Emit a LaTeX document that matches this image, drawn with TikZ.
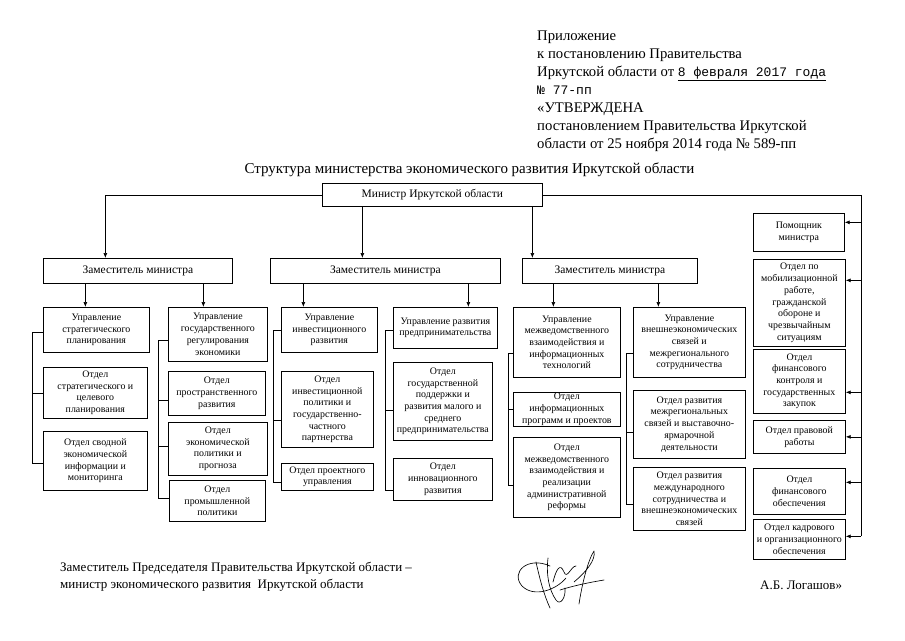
\documentclass[tikz,border=0pt]{standalone}
\usepackage{fontspec}
\setmainfont{Liberation Serif}
\newfontfamily\monofam{Liberation Mono}
\usetikzlibrary{arrows.meta}
\begin{document}
\begin{tikzpicture}[x=1pt,y=-1pt,
  box/.style={draw, line width=0.7pt, inner sep=1pt, align=center,
    font=\fontsize{9.9}{11.7}\selectfont, anchor=north west},
  ln/.style={line width=0.7pt},
  arr/.style={line width=0.7pt, -{Latex[length=5pt,width=4pt]}},
  hdr/.style={anchor=base west, inner sep=0pt, font=\fontsize{14.7}{17}\selectfont},
  txt/.style={anchor=base west, inner sep=0pt, font=\fontsize{13}{15}\selectfont}]
\useasboundingbox (0,0) rectangle (905,640);
\fill[white] (0,0) rectangle (905,640);
\newcommand\bx[6]{\node[box, minimum width={(#4-#2)*1pt}, minimum height={(#5-#3)*1pt}] (#1) at (#2,#3) {#6};}

% header
\node[hdr] (h1) at (537,40) {Приложение};
\node[hdr] (h2) at (537,58) {к постановлению Правительства};
\node[hdr] (h3) at (537,76) {Иркутской области от {\monofam\fontsize{13}{15}\selectfont\underline{8 февраля 2017 года}}};
\node[hdr] (h4) at (537,94) {\monofam\fontsize{13}{15}\selectfont № 77-пп};
\node[hdr] (h5) at (537,112) {«УТВЕРЖДЕНА};
\node[hdr] (h6) at (537,130) {постановлением Правительства Иркутской};
\node[hdr] (h7) at (537,148) {области от 25 ноября 2014 года № 589-пп};

% title
\node[anchor=base, inner sep=0pt, font=\fontsize{15}{18}\selectfont] (title) at (469.5,173)
  {Структура министерства экономического развития Иркутской области};

% minister and deputies
\node[draw, line width=0.7pt, anchor=north west, minimum width=220pt, minimum height=23pt,
  inner sep=1pt, font=\fontsize{11.5}{13}\selectfont] (min) at (322,183) {Министр Иркутской области};
\node[draw, line width=0.7pt, anchor=north west, minimum width=189pt, minimum height=25pt,
  inner sep=1pt, font=\fontsize{11.5}{13}\selectfont] (D1) at (43,258) {Заместитель министра};
\node[draw, line width=0.7pt, anchor=north west, minimum width=230pt, minimum height=25pt,
  inner sep=1pt, font=\fontsize{11.5}{13}\selectfont] (D2) at (270,258) {Заместитель министра};
\node[draw, line width=0.7pt, anchor=north west, minimum width=175pt, minimum height=25pt,
  inner sep=1pt, font=\fontsize{11.5}{13}\selectfont] (D3) at (522,258) {Заместитель министра};

% level boxes
\bx{US}{43}{307}{149}{352}{Управление\\стратегического\\планирования}
\bx{UG}{168}{307}{267}{361}{Управление\\государственного\\регулирования\\экономики}
\bx{OS1}{43}{367}{147}{418}{Отдел\\стратегического и\\целевого\\планирования}
\bx{OS2}{43}{431}{147}{490}{Отдел сводной\\экономической\\информации и\\мониторинга}
\bx{OG1}{168}{371}{265}{415}{Отдел\\пространственного\\развития}
\bx{OG2}{168}{422}{267}{475}{Отдел\\экономической\\политики и\\прогноза}
\bx{OG3}{169}{480}{265}{521}{Отдел\\промышленной\\политики}
\bx{UI}{281}{307}{377}{352}{Управление\\инвестиционного\\развития}
\bx{UP}{393}{307}{497}{348}{Управление развития\\предпринимательства}
\bx{OI1}{281}{371}{373}{447}{Отдел\\инвестиционной\\политики и\\государственно-\\частного\\партнерства}
\bx{OI2}{281}{463}{373}{490}{Отдел проектного\\управления}
\bx{OP1}{393}{362}{492}{440}{Отдел\\государственной\\поддержки и\\развития малого и\\среднего\\предпринимательства}
\bx{OP2}{393}{458}{492}{500}{Отдел\\инновационного\\развития}
\bx{UM}{513}{307}{620}{377}{Управление\\межведомственного\\взаимодействия и\\информационных\\технологий}
\bx{UV}{633}{307}{745}{377}{Управление\\внешнеэкономических\\связей и\\межрегионального\\сотрудничества}
\bx{OM1}{513}{392}{620}{425}{Отдел\\информационных\\программ и проектов}
\bx{OM2}{513}{437}{620}{517}{Отдел\\межведомственного\\взаимодействия и\\реализации\\административной\\реформы}
\bx{OV1}{633}{390}{745}{458}{Отдел развития\\межрегиональных\\связей и выставочно-\\ярмарочной\\деятельности}
\bx{OV2}{633}{467}{745}{530}{Отдел развития\\международного\\сотрудничества и\\внешнеэкономических\\связей}

% right column
\bx{R1}{753}{213}{844}{251}{Помощник\\министра}
\bx{R2}{753}{259}{845}{346}{Отдел по\\мобилизационной\\работе,\\гражданской\\обороне и\\чрезвычайным\\ситуациям}
\bx{R3}{753}{349}{845}{413}{Отдел\\финансового\\контроля и\\государственных\\закупок}
\bx{R4}{753}{420}{845}{453}{Отдел правовой\\работы}
\bx{R5}{753}{468}{845}{514}{Отдел\\финансового\\обеспечения}
\bx{R6}{753}{519}{845}{559}{Отдел кадрового\\и организационного\\обеспечения}

% minister connectors
\draw[arr] (min.west) -| ([xshift=-32.5pt]D1.north);
\path ([xshift=-70pt]min.south) coordinate (m2) ([xshift=100pt]min.south) coordinate (m3);
\draw[arr] (m2) -- (m2 |- D2.north);
\draw[arr] (m3) -- (m3 |- D3.north);
\coordinate (trunk) at (861,195);
\path ([yshift=10pt]R1.east) coordinate (a1)
      ([yshift=22.5pt]R2.east) coordinate (a2)
      ([yshift=-11pt]R3.east) coordinate (a3)
      (R4.east) coordinate (a4)
      ([yshift=9pt]R5.east) coordinate (a5)
      ([yshift=3pt]R6.east) coordinate (a6);
\draw[ln] (min.east) -| (a6 -| trunk);
\foreach \a in {a1,a2,a3,a4,a5,a6} \draw[arr] (\a -| trunk) -- (\a);

% deputy connectors
\path ([xshift=-52.5pt]D1.south) coordinate (d11) ([xshift=65.5pt]D1.south) coordinate (d12)
      ([xshift=-82pt]D2.south) coordinate (d21) ([xshift=83pt]D2.south) coordinate (d22)
      ([xshift=-56.5pt]D3.south) coordinate (d31) ([xshift=48.5pt]D3.south) coordinate (d32);
\draw[arr] (d11) -- (d11 |- US.north);
\draw[arr] (d12) -- (d12 |- UG.north);
\draw[arr] (d21) -- (d21 |- UI.north);
\draw[arr] (d22) -- (d22 |- UP.north);
\draw[arr] (d31) -- (d31 |- UM.north);
\draw[arr] (d32) -- (d32 |- UV.north);

% brackets
\draw[ln] ([yshift=-2.5pt]US.west) -- ++(-11,0) |- ([yshift=-2pt]OS2.west);
\draw[ln] (OS1.west) -- ++(-11,0);
\draw[ln] ([yshift=-6pt]UG.west) -- ++(-10,0) |- ([yshift=3pt]OG3.west);
\draw[ln] ([yshift=-7pt]OG1.west) -- ++(-10,0);
\draw[ln] ([yshift=3pt]OG2.west) -- ++(-10,0);
\draw[ln] (UI.west) -- ++(-8,0) |- ([yshift=-5.5pt]OI2.west);
\draw[ln] ([yshift=-11pt]OI1.west) -- ++(-8,0);
\draw[ln] ([yshift=-2.5pt]UP.west) -- ++(-8,0) |- ([yshift=-11pt]OP2.west);
\draw[ln] ([yshift=-9pt]OP1.west) -- ++(-8,0);
\draw[ln] ([yshift=-11pt]UM.west) -- ++(-5,0) |- ([yshift=-8pt]OM2.west);
\draw[ln] (OM1.west) -- ++(-5,0);
\draw[ln] ([yshift=-11pt]UV.west) -- ++(-7,0) |- ([yshift=-5.5pt]OV2.west);
\draw[ln] ([yshift=-8pt]OV1.west) -- ++(-7,0);

% bottom text
\node[txt] (b1) at (60,571) {Заместитель Председателя Правительства Иркутской области –};
\node[txt] (b2) at (60,588) {министр экономического развития \ Иркутской области};
\node[txt] (b3) at (760,589) {А.Б. Логашов»};

% signature
\begin{scope}[line width=0.65pt, line cap=round, line join=round]
\draw (550,566) .. controls (528,556) and (510,572) .. (522,586) .. controls (534,598) and (556,590) .. (566,578);
\draw (536,562) .. controls (540,580) and (544,595) .. (550,608);
\draw (548,558) .. controls (546,575) and (549,590) .. (556,600) .. controls (560,606) and (566,598) .. (565,588);
\draw (553,582) .. controls (556,570) and (560,562) .. (564,572) .. controls (567,580) and (571,566) .. (576,566);
\draw (574,582) .. controls (586,572) and (596,560) .. (594,551) .. controls (588,560) and (582,584) .. (579,604);
\draw (560,590) .. controls (576,585) and (592,582) .. (604,580);
\end{scope}
\end{tikzpicture}
\end{document}
